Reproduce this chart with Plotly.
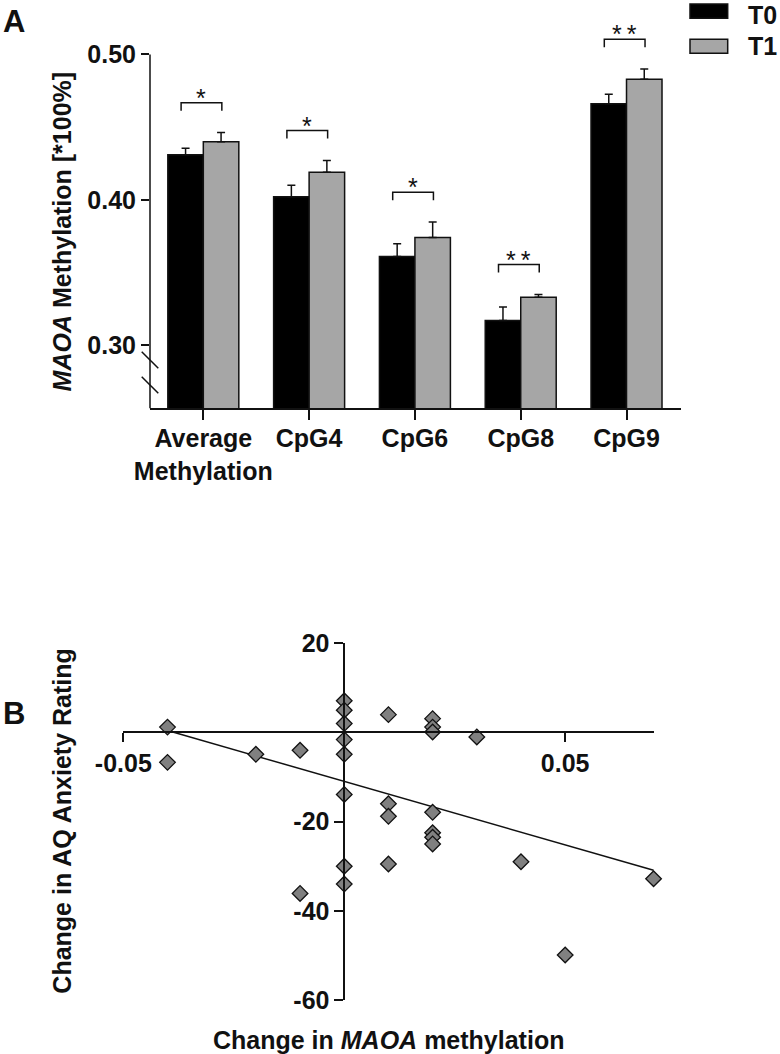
import numpy as np
import plotly.graph_objects as go

# ---------------- Data: panel A ----------------
categories = ["Average<br>Methylation", "CpG4", "CpG6", "CpG8", "CpG9"]
series_names = ["T0", "T1"]
t0_mean = [0.431, 0.402, 0.361, 0.317, 0.466]
t0_err = [0.0045, 0.0080, 0.0088, 0.0092, 0.0066]
t1_mean = [0.440, 0.419, 0.374, 0.333, 0.483]
t1_err = [0.0063, 0.0081, 0.0107, 0.0019, 0.0070]
significance = ["*", "*", "*", "**", "**"]
a_yticks = [0.30, 0.40, 0.50]

# ---------------- Data: panel B ----------------
delta_methylation = [-0.04, -0.04, -0.02, -0.01, -0.01,
                     0.00, 0.00, 0.00, 0.00, 0.00, 0.00, 0.00, 0.00,
                     0.01, 0.01, 0.01, 0.01,
                     0.02, 0.02, 0.02, 0.02, 0.02, 0.02, 0.02,
                     0.03, 0.04, 0.05, 0.07]
delta_anxiety = [1.2, -6.7, -4.9, -4.0, -36.1,
                 7.1, 5.0, 2.0, -1.6, -4.9, -13.9, -30.0, -34.0,
                 4.0, -16.0, -18.8, -29.5,
                 3.1, 1.2, 0.1, -17.9, -22.5, -23.5, -25.0,
                 -1.0, -29.0, -49.9, -32.8]
b_xticks = [-0.05, 0.05]
b_xticklabels = ["-0.05", "0.05"]
b_yticks = [-60, -40, -20, 20]
b_yticklabels = ["-60", "-40", "-20", "20"]

# ---------------- Layout geometry ----------------
W, H = 780, 1054
FONT = "Liberation Sans, Arial, Helvetica, sans-serif"
INK = "#111111"

def px_x(p):
    return p / W

def px_y(p):
    return 1 - p / H

# Panel A axes
A_XDOM = [px_x(150), px_x(681)]
A_YR = [0.2565, 0.525]
A_YDOM = [px_y(408.3), px_y(54.5 - (A_YR[1] - 0.50) * 1455)]
A_XR = [-0.504, 4.515]

def a_y_to_paper(v):
    return A_YDOM[0] + (v - A_YR[0]) / (A_YR[1] - A_YR[0]) * (A_YDOM[1] - A_YDOM[0])

# Panel B axes
B_XDOM = [px_x(123.3), px_x(654)]
B_YDOM = [px_y(1000), px_y(643.3)]
B_XR = [-0.05, 0.0701]
B_YR = [-60, 20]
b_xpos = B_XDOM[0] + (0 - B_XR[0]) / (B_XR[1] - B_XR[0]) * (B_XDOM[1] - B_XDOM[0])
b_ypos = B_YDOM[0] + (0 - B_YR[0]) / (B_YR[1] - B_YR[0]) * (B_YDOM[1] - B_YDOM[0])

fig = go.Figure()

x_idx = list(range(len(categories)))
colors = ["#000000", "#a6a6a6"]
for name, mean, err, col in zip(series_names, [t0_mean, t1_mean], [t0_err, t1_err], colors):
    fig.add_trace(go.Bar(
        x=x_idx, y=mean, name=name, base=0,
        marker=dict(color=col, line=dict(color=INK, width=1.5)),
        error_y=dict(type="data", symmetric=False, array=err,
                     arrayminus=[0] * len(err), color=INK, thickness=1.5, width=4),
        xaxis="x", yaxis="y", showlegend=False,
    ))

# Panel B scatter + regression
slope, intercept = np.polyfit(delta_methylation, delta_anxiety, 1)
xfit = np.array([min(delta_methylation), max(delta_methylation)])
fig.add_trace(go.Scatter(
    x=xfit, y=slope * xfit + intercept, mode="lines",
    line=dict(color=INK, width=1.5), xaxis="x2", yaxis="y2",
    showlegend=False, cliponaxis=False))
fig.add_trace(go.Scatter(
    x=delta_methylation, y=delta_anxiety, mode="markers",
    marker=dict(symbol="diamond", size=12, color="#808080",
                line=dict(color=INK, width=1.3)),
    xaxis="x2", yaxis="y2", showlegend=False, cliponaxis=False))

shapes = []
annotations = []

# significance brackets
for i, (m0, e0, m1, e1, sig) in enumerate(zip(t0_mean, t0_err, t1_mean, t1_err, significance)):
    top = max(m0 + e0, m1 + e1) + 0.0205
    x0, x1 = i - 0.21, i + 0.175
    leg = 0.0055
    shapes.append(dict(type="path", xref="x", yref="y",
                       path=f"M {x0},{top - leg} L {x0},{top} L {x1},{top} L {x1},{top - leg}",
                       line=dict(color=INK, width=1.5)))
    annotations.append(dict(x=(x0 + x1) / 2, y=top, xref="x", yref="y",
                            text=sig.replace("**", "*\u2009*"), showarrow=False,
                            yanchor="bottom", yshift=-11,
                            font=dict(family=FONT, size=25, color=INK)))

# manual y-axis line for panel A (ends at 0.50)
shapes.append(dict(type="line", xref="paper", yref="paper",
                   x0=A_XDOM[0], x1=A_XDOM[0], y0=A_YDOM[0], y1=a_y_to_paper(0.50),
                   line=dict(color=INK, width=1.5)))
# axis break marks
for (ya, yb) in [(0.2954, 0.2840), (0.2782, 0.2668)]:
    shapes.append(dict(type="line", xref="paper", yref="paper",
                       x0=px_x(141.7), x1=px_x(158.3),
                       y0=a_y_to_paper(ya), y1=a_y_to_paper(yb),
                       line=dict(color=INK, width=1.5)))

# legend
for j, (name, col) in enumerate(zip(series_names, colors)):
    yt = [4, 39.3][j]
    yb = [18.3, 53.3][j]
    shapes.append(dict(type="rect", xref="paper", yref="paper",
                       x0=px_x(690), x1=px_x(727.7), y0=px_y(yb), y1=px_y(yt),
                       fillcolor=col, line=dict(color=INK, width=1.5)))
    if j == 0:
        pos = dict(y=1.0, yanchor="top")
    else:
        pos = dict(y=px_y((yt + yb) / 2), yanchor="middle")
    annotations.append(dict(x=px_x(747), xref="paper", yref="paper",
                            text=f"<b>{name}</b>", showarrow=False, xanchor="left",
                            borderpad=0, font=dict(family=FONT, size=25, color=INK), **pos))

# axis titles
annotations.append(dict(x=px_x(62), y=(A_YDOM[0] + a_y_to_paper(0.50)) / 2,
                        xref="paper", yref="paper",
                        text="<b><i>MAOA</i> Methylation [*100%]</b>", textangle=-90,
                        showarrow=False, xanchor="center", yanchor="middle",
                        font=dict(family=FONT, size=25, color=INK)))
annotations.append(dict(x=px_x(62), y=(B_YDOM[0] + B_YDOM[1]) / 2,
                        xref="paper", yref="paper",
                        text="<b>Change in AQ Anxiety Rating</b>", textangle=-90,
                        showarrow=False, xanchor="center", yanchor="middle",
                        font=dict(family=FONT, size=25, color=INK)))
annotations.append(dict(x=(B_XDOM[0] + B_XDOM[1]) / 2, y=px_y(1040),
                        xref="paper", yref="paper",
                        text="<b>Change in <i>MAOA</i> methylation</b>",
                        showarrow=False, xanchor="center", yanchor="middle",
                        font=dict(family=FONT, size=25, color=INK)))
# panel letters
annotations.append(dict(x=px_x(1), y=px_y(2), xref="paper", yref="paper",
                        text="<b>A</b>", showarrow=False, xanchor="left", yanchor="top",
                        font=dict(family=FONT, size=31, color=INK)))
annotations.append(dict(x=px_x(1), y=px_y(694), xref="paper", yref="paper",
                        text="<b>B</b>", showarrow=False, xanchor="left", yanchor="top",
                        font=dict(family=FONT, size=31, color=INK)))

tickfont = dict(family=FONT, size=25, color=INK, weight="bold")
common = dict(automargin=False, showgrid=False, zeroline=False, tickmode="array",
              ticks="outside", tickwidth=1.5, tickcolor=INK, tickfont=tickfont,
              tickangle=0)

fig.update_layout(
    width=W, height=H,
    margin=dict(l=0, r=0, t=0, b=0, pad=0, autoexpand=False),
    paper_bgcolor="white", plot_bgcolor="rgba(0,0,0,0)",
    barmode="group", bargap=0.329, bargroupgap=0,
    showlegend=False,
    shapes=shapes, annotations=annotations,
    xaxis=dict(domain=A_XDOM, range=A_XR, tickvals=x_idx, ticktext=categories,
               ticklen=10, ticklabelstandoff=-3, showline=True, linecolor=INK,
               linewidth=1.5, anchor="y", **common),
    yaxis=dict(domain=A_YDOM, range=A_YR, tickvals=a_yticks,
               ticktext=[f"{v:.2f}" for v in a_yticks], ticklen=8,
               showline=False, anchor="x", **common),
    xaxis2=dict(domain=B_XDOM, range=B_XR, tickvals=b_xticks, ticktext=b_xticklabels,
                ticklen=9, showline=True, linecolor=INK, linewidth=1.5,
                anchor="free", position=b_ypos, **common),
    yaxis2=dict(domain=B_YDOM, range=B_YR, tickvals=b_yticks, ticktext=b_yticklabels,
                ticklen=9, showline=True, linecolor=INK, linewidth=1.5,
                anchor="free", position=b_xpos, **common),
)

fig.write_html("out.html",
               config={"displayModeBar": False},
               post_script="document.body.style.margin='0';document.body.style.overflow='hidden';")
